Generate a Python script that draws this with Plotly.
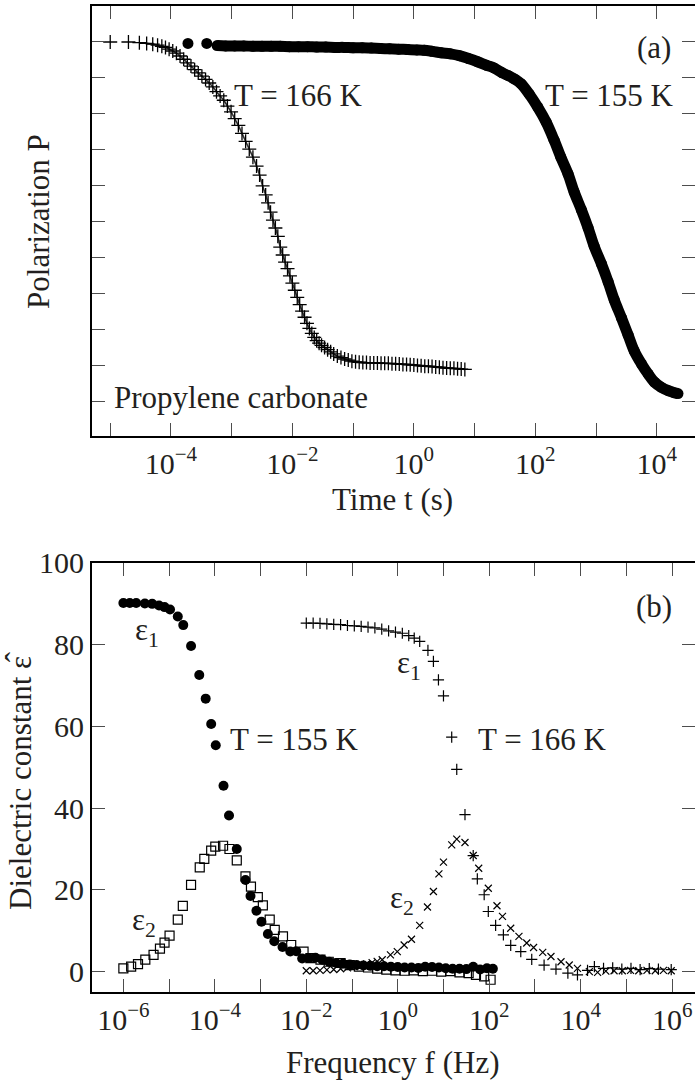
import numpy as np
import plotly.graph_objects as go

# ---------------- Panel (a): polarization vs time ----------------
# T = 166 K (plus markers): log10(t / s) and P
log_t_166 = [-5.00, -4.70, -4.52, -4.40, -4.30, -4.22, -4.15, -4.09, -4.03, -3.97,
             -3.91, -3.85, -3.79, -3.73, -3.67, -3.61, -3.55, -3.49, -3.43, -3.37,
             -3.31, -3.25, -3.19, -3.13, -3.07, -3.01, -2.95, -2.89, -2.83, -2.77,
             -2.71, -2.65, -2.59, -2.54, -2.49, -2.44, -2.40, -2.36, -2.32, -2.28,
             -2.24, -2.20, -2.16, -2.12, -2.08, -2.04, -2.00, -1.96, -1.92, -1.88,
             -1.84, -1.80, -1.76, -1.72, -1.68, -1.64, -1.60, -1.56, -1.52, -1.47,
             -1.42, -1.37, -1.32, -1.26, -1.20, -1.14, -1.08, -1.02, -0.96, -0.90,
             -0.84, -0.78, -0.72, -0.66, -0.60, -0.54, -0.48, -0.42, -0.36, -0.30,
             -0.24, -0.18, -0.12, -0.06, 0.00, 0.06, 0.12, 0.18, 0.24, 0.30,
             0.36, 0.42, 0.48, 0.54, 0.60, 0.66, 0.72, 0.78, 0.84]
p_166 = [1.000, 1.000, 0.998, 0.996, 0.994, 0.991, 0.988, 0.985, 0.980, 0.975,
         0.969, 0.961, 0.952, 0.942, 0.933, 0.923, 0.914, 0.905, 0.896, 0.886,
         0.875, 0.862, 0.850, 0.838, 0.822, 0.806, 0.787, 0.768, 0.746, 0.724,
         0.702, 0.680, 0.655, 0.630, 0.600, 0.575, 0.553, 0.527, 0.505, 0.483,
         0.460, 0.430, 0.408, 0.388, 0.370, 0.350, 0.330, 0.310, 0.290, 0.270,
         0.252, 0.235, 0.218, 0.204, 0.190, 0.179, 0.170, 0.163, 0.157, 0.151,
         0.145, 0.139, 0.133, 0.127, 0.123, 0.119, 0.116, 0.113, 0.111, 0.110,
         0.109, 0.109, 0.108, 0.108, 0.108, 0.107, 0.107, 0.107, 0.106, 0.106,
         0.105, 0.104, 0.104, 0.103, 0.102, 0.101, 0.100, 0.099, 0.099, 0.098,
         0.097, 0.096, 0.095, 0.094, 0.093, 0.093, 0.092, 0.091, 0.090]

# T = 155 K (filled circles)
log_t_155 = [-3.72, -3.41, -3.24, -3.10, -2.95, -2.80, -2.65, -2.50, -2.35, -2.20,
             -2.05, -1.90, -1.75, -1.60, -1.45, -1.30, -1.15, -1.00, -0.85, -0.70,
             -0.55, -0.40, -0.25, -0.10, 0.05, 0.17, 0.30, 0.45, 0.60, 0.75,
             0.90, 1.05, 1.20, 1.32, 1.45, 1.55, 1.66, 1.765, 1.90, 2.04,
             2.18, 2.31, 2.42, 2.54, 2.64, 2.76, 2.87, 2.97, 3.09, 3.20,
             3.30, 3.42, 3.53, 3.63, 3.75, 3.86, 3.96, 4.07, 4.19, 4.29, 4.35]
p_155 = [0.996, 0.996, 0.990, 0.989, 0.989, 0.989, 0.988, 0.988, 0.988, 0.988,
         0.987, 0.987, 0.987, 0.986, 0.986, 0.985, 0.985, 0.984, 0.984, 0.983,
         0.982, 0.981, 0.980, 0.979, 0.978, 0.977, 0.974, 0.970, 0.967, 0.962,
         0.954, 0.945, 0.935, 0.928, 0.915, 0.907, 0.897, 0.884, 0.855, 0.819,
         0.777, 0.727, 0.680, 0.633, 0.583, 0.533, 0.483, 0.432, 0.383, 0.333,
         0.283, 0.233, 0.185, 0.141, 0.105, 0.077, 0.055, 0.041, 0.031, 0.025, 0.023]

# ---------------- Panel (b): dielectric constant vs frequency ----------------
# T = 155 K, eps1 (filled circles)
log_f_e1_155 = [-6.00, -5.86, -5.72, -5.53, -5.37, -5.22, -5.10, -4.98, -4.81, -4.69,
                -4.52, -4.34, -4.20, -4.08, -3.98, -3.81, -3.69, -3.52, -3.33, -3.22,
                -3.09, -2.98, -2.84, -2.70, -2.52, -2.35, -2.22, -2.09, -1.95, -1.80,
                -1.65, -1.50, -1.35, -1.20, -1.05, -0.90, -0.75, -0.60, -0.45, -0.30,
                -0.15, 0.00, 0.15, 0.30, 0.45, 0.60, 0.75, 0.90, 1.05, 1.20,
                1.35, 1.50, 1.65, 1.80, 1.95, 2.08]
e1_155 = [90.2, 90.2, 90.2, 90.1, 90.0, 89.6, 89.2, 88.6, 86.9, 84.8,
          79.7, 72.6, 66.8, 60.6, 55.4, 45.5, 38.2, 30.0, 22.4, 18.5,
          14.9, 12.2, 9.2, 7.4, 6.0, 4.9, 5.0, 3.2, 3.3, 3.4,
          2.9, 2.4, 2.1, 1.9, 1.7, 1.6, 1.5, 1.4, 1.3, 1.3,
          1.2, 1.1, 1.0, 1.0, 0.9, 1.2, 1.1, 1.0, 0.8, 0.7,
          0.7, 0.6, 1.2, 0.5, 0.8, 0.7]

# T = 155 K, eps2 (open squares)
log_f_e2_155 = [-6.00, -5.83, -5.68, -5.52, -5.34, -5.20, -5.10, -4.99, -4.81, -4.70,
                -4.52, -4.33, -4.23, -4.08, -3.99, -3.82, -3.68, -3.52, -3.33, -3.21,
                -3.06, -2.95, -2.80, -2.69, -2.51, -2.33, -2.06, -1.91, -1.69, -1.51,
                -1.25, -1.05, -0.85, -0.65, -0.45, -0.25, -0.05, 0.15, 0.35, 0.55,
                0.75, 0.95, 1.15, 1.35, 1.55, 1.71, 1.89, 2.03]
e2_155 = [0.8, 1.2, 1.8, 2.9, 4.1, 5.6, 7.1, 8.8, 12.7, 16.1,
          21.2, 25.5, 27.6, 29.6, 30.6, 30.8, 30.0, 27.2, 23.3, 20.8,
          18.2, 16.2, 12.7, 10.2, 8.6, 6.5, 4.9, 3.3, 2.9, 2.4,
          2.1, 1.6, 1.2, 1.0, 0.7, 0.5, 0.3, 0.2, 0.3, 0.1,
          0.2, 0.0, 0.1, -0.2, -0.4, -0.8, -1.2, -2.0]

# T = 166 K, eps1 (plus markers)
log_f_e1_166 = [-2.00, -1.85, -1.70, -1.55, -1.40, -1.25, -1.10, -0.95, -0.80, -0.65,
                -0.50, -0.35, -0.20, -0.05, 0.10, 0.24, 0.36, 0.48, 0.66, 0.78,
                0.89, 1.00, 1.18, 1.29, 1.47, 1.65, 1.74, 1.89, 1.98, 2.14,
                2.31, 2.47, 2.69, 2.93, 3.20, 3.46, 3.72, 3.93, 4.15, 4.30,
                4.50, 4.70, 4.90, 5.10, 5.30, 5.50, 5.70, 5.98]
e1_166 = [85.3, 85.3, 85.2, 85.1, 85.0, 84.9, 84.7, 84.6, 84.5, 84.3,
          84.1, 83.8, 83.4, 83.1, 82.8, 82.2, 81.6, 80.8, 78.6, 75.9,
          71.4, 67.5, 57.4, 49.5, 38.4, 28.4, 22.7, 18.8, 14.7, 11.3,
          9.0, 6.4, 4.9, 3.0, 1.6, 0.6, -0.4, -0.8, 0.3, 1.2,
          0.8, 0.9, 0.6, 0.8, 0.5, 0.7, 0.6, 0.5]

# T = 166 K, eps2 (x markers)
log_f_e2_166 = [-2.00, -1.85, -1.70, -1.55, -1.40, -1.25, -1.10, -0.95, -0.81, -0.68,
                -0.56, -0.45, -0.34, -0.16, -0.01, 0.14, 0.30, 0.48, 0.65, 0.78,
                0.90, 1.00, 1.18, 1.29, 1.47, 1.65, 1.77, 1.98, 2.17, 2.29,
                2.47, 2.65, 2.82, 2.97, 3.17, 3.35, 3.57, 3.75, 3.93, 4.19,
                4.37, 4.55, 4.73, 4.91, 5.09, 5.27, 5.45, 5.63, 5.81, 5.98]
e2_166 = [0.2, 0.2, 0.3, 0.4, 0.5, 0.7, 0.9, 1.2, 1.6, 1.9,
          2.2, 2.5, 2.9, 4.1, 4.9, 6.5, 7.9, 11.3, 15.8, 19.6,
          23.9, 26.8, 31.0, 32.4, 31.6, 28.4, 25.3, 20.4, 16.1, 13.5,
          10.6, 8.6, 7.0, 5.9, 4.7, 3.7, 2.4, 1.6, 0.8, 0.0,
          -0.2, 0.1, 0.2, 0.2, 0.3, 0.2, 0.3, 0.2, 0.3, 0.2]

# tick definitions
top_decades = list(range(-5, 5))
bot_decades = list(range(-6, 7))
p_ticks = [round(0.1 * k, 1) for k in range(11)]
eps_ticks = [0, 20, 40, 60, 80, 100]


def pow_label(k):
    if k % 2:
        return ""
    s = str(k).replace("-", "\u2212")
    return "10<sup>" + s + "</sup>"


def to_lin(vals):
    return [10.0 ** v for v in vals]


FONT = "Liberation Serif, Times New Roman, Times, serif"
TXT = "#231f20"
INK = "black"

fig = go.Figure()

# panel (a)
fig.add_trace(go.Scatter(x=to_lin(log_t_155[2:]), y=p_155[2:], mode="lines",
                         line=dict(color=INK, width=11, shape="spline"),
                         xaxis="x", yaxis="y", showlegend=False, hoverinfo="skip"))
fig.add_trace(go.Scatter(x=to_lin(log_t_155), y=p_155, mode="markers",
                         marker=dict(symbol="circle", size=11, color=INK),
                         xaxis="x", yaxis="y", showlegend=False))
fig.add_trace(go.Scatter(x=to_lin(log_t_166[3:]), y=p_166[3:], mode="lines",
                         line=dict(color="#333333", width=1.6, shape="spline"),
                         xaxis="x", yaxis="y", showlegend=False, hoverinfo="skip"))
fig.add_trace(go.Scatter(x=to_lin(log_t_166), y=p_166, mode="markers",
                         marker=dict(symbol="cross-thin", size=10,
                                     line=dict(color=INK, width=1.3)),
                         xaxis="x", yaxis="y", showlegend=False))

# panel (b)
fig.add_trace(go.Scatter(x=to_lin(log_f_e2_155), y=e2_155, mode="markers",
                         marker=dict(symbol="square-open", size=9, color=INK,
                                     line=dict(color=INK, width=1.2)),
                         xaxis="x2", yaxis="y2", showlegend=False))
fig.add_trace(go.Scatter(x=to_lin(log_f_e1_155), y=e1_155, mode="markers",
                         marker=dict(symbol="circle", size=10, color=INK),
                         xaxis="x2", yaxis="y2", showlegend=False))
fig.add_trace(go.Scatter(x=to_lin(log_f_e2_166), y=e2_166, mode="markers",
                         marker=dict(symbol="x-thin", size=7,
                                     line=dict(color=INK, width=1.2)),
                         xaxis="x2", yaxis="y2", showlegend=False))
fig.add_trace(go.Scatter(x=to_lin(log_f_e1_166), y=e1_166, mode="markers",
                         marker=dict(symbol="cross-thin", size=8,
                                     line=dict(color=INK, width=1.2)),
                         xaxis="x2", yaxis="y2", showlegend=False))

common = dict(showgrid=False, zeroline=False, ticks="inside", ticklen=13,
              tickwidth=1.3, tickcolor="#4d4d4d", showline=True, linecolor=INK,
              linewidth=2, mirror="ticks", automargin=False,
              tickfont=dict(family=FONT, size=30, color=TXT))

fig.update_layout(
    template="none",
    width=695, height=1083,
    margin=dict(l=92, r=0, t=6, b=91, pad=0, autoexpand=False),
    paper_bgcolor="white", plot_bgcolor="white",
    font=dict(family=FONT, color=TXT),
    xaxis=dict(type="log", range=[-5.30, 4.63], domain=[0, 1], anchor="y",
               tickmode="array", tickvals=[10.0 ** k for k in top_decades],
               ticktext=[pow_label(k) for k in top_decades], **common),
    yaxis=dict(range=[-0.095, 1.1], domain=[0.5639, 1.0], anchor="x",
               tickmode="array", tickvals=p_ticks, showticklabels=False, **common),
    xaxis2=dict(type="log", range=[-6.686, 6.50], domain=[0, 1], anchor="y2",
                tickmode="array", tickvals=[10.0 ** k for k in bot_decades],
                ticktext=[pow_label(k) for k in bot_decades], **common),
    yaxis2=dict(range=[-5, 100], domain=[0.0, 0.4351], anchor="x2",
                tickmode="array", tickvals=eps_ticks,
                ticktext=[str(v) for v in eps_ticks], **common),
)


def add_text(text, x, y, xref, yref, xanchor="left", yanchor="middle", size=31, angle=0):
    fig.add_annotation(text=text, x=x, y=y, xref=xref, yref=yref, xanchor=xanchor,
                       yanchor=yanchor, showarrow=False, textangle=angle,
                       font=dict(family=FONT, size=size, color=TXT))


# panel (a) texts
add_text("(a)", 4.27, 0.985, "x", "y", xanchor="right")
add_text("T = 155 K", 4.32, 0.852, "x", "y", xanchor="right")
add_text("T = 166 K", -2.99, 0.852, "x", "y")
add_text("Propylene carbonate", -4.97, 0.013, "x", "y")

# panel (b) texts
add_text("(b)", 6.04, 89.3, "x2", "y2", xanchor="right")
add_text("\u03b5<sub>1</sub>", -5.79, 83.0, "x2", "y2")
add_text("T = 155 K", -3.71, 56.7, "x2", "y2")
add_text("\u03b5<sub>1</sub>", -0.05, 75.1, "x2", "y2")
add_text("T = 166 K", 1.71, 56.7, "x2", "y2")
add_text("\u03b5<sub>2</sub>", -5.85, 12.2, "x2", "y2")
add_text("\u03b5<sub>2</sub>", -0.22, 17.6, "x2", "y2")

# axis titles
add_text("Time t (s)", 0.499, 0.499, "paper", "paper", xanchor="center")
add_text("Frequency f (Hz)", 0.499, -0.071, "paper", "paper", xanchor="center")
add_text("Polarization P", -0.0879, 0.782, "paper", "paper", xanchor="center", angle=-90)
add_text("Dielectric constant \u03b5", -0.1177, 0.212, "paper", "paper",
         xanchor="center", angle=-90)
# circumflex accent over the epsilon of the rotated title
add_text("\u02c6", -0.1260, 0.3395, "paper", "paper", xanchor="center", angle=-90)

fig.write_html("out.html", config={"displayModeBar": False},
               post_script="document.body.style.margin='0';document.body.style.padding='0';")
